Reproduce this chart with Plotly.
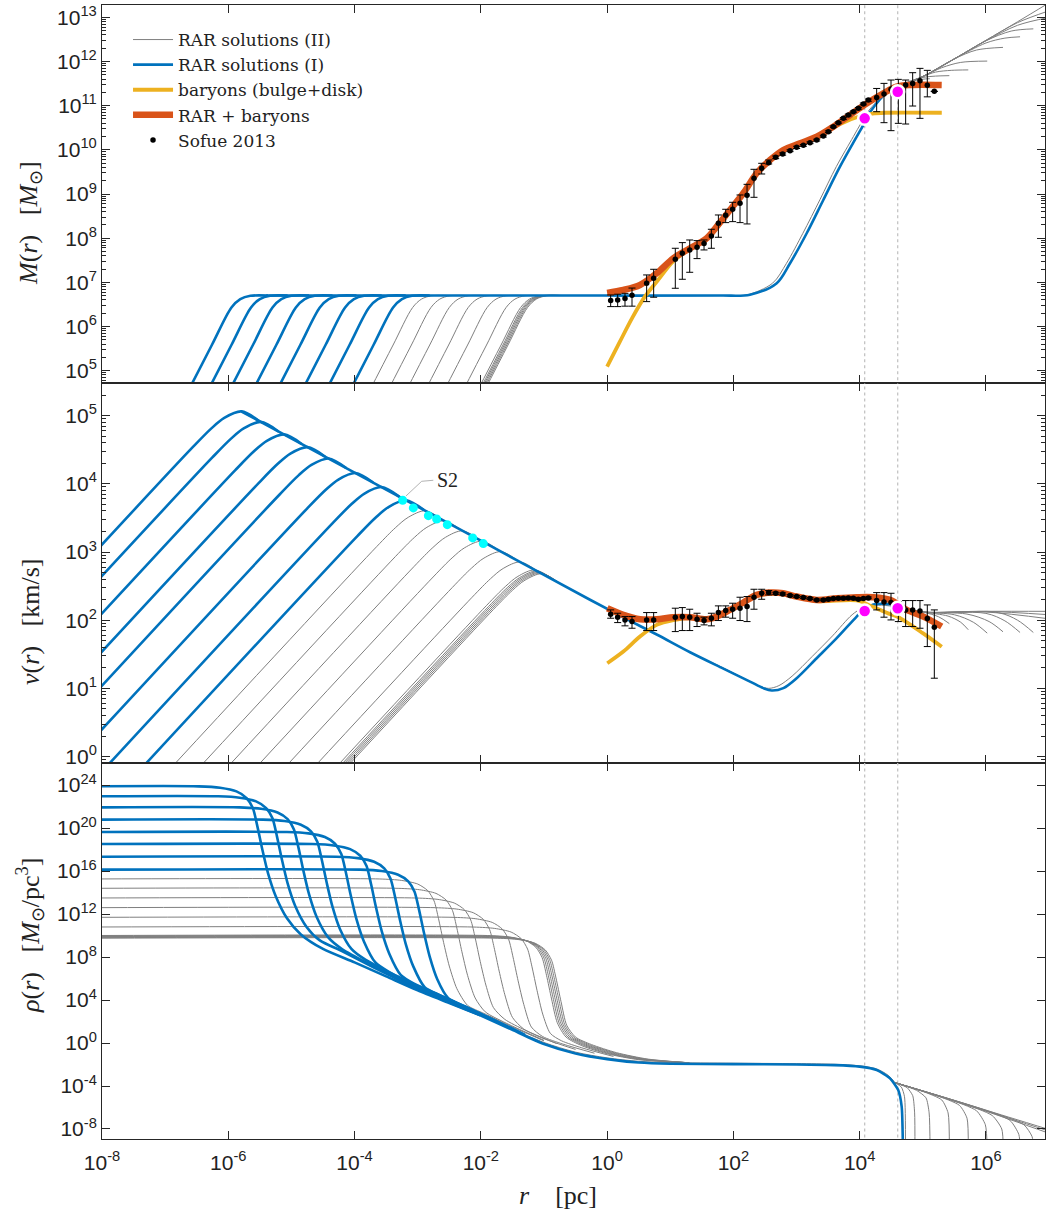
import plotly.graph_objects as go
from plotly.subplots import make_subplots

# ---------------- data (all values are log10 of the quantity) ----------------
BLUE = "#0072BD"; GRAY = "#7F7F7F"; ORANGE = "#D95319"; YELLOW = "#EDB120"

# --- M(r) panel ---
CORE_M_Y = [4.44, 5.58, 6.43, 6.62, 6.695, 6.70]
BM_X = [
    [-6.67, -6.26, -5.95, -5.81, -5.65, -5.37],
    [-6.36, -5.95, -5.64, -5.50, -5.34, -5.06],
    [-6.02, -5.61, -5.30, -5.16, -5.00, -4.72],
    [-5.65, -5.24, -4.93, -4.79, -4.63, -4.35],
    [-5.27, -4.86, -4.55, -4.41, -4.25, -3.97],
    [-4.87, -4.46, -4.15, -4.01, -3.85, -3.57],
    [-4.49, -4.08, -3.77, -3.63, -3.47, -3.19],
    [-4.11, -3.70, -3.39, -3.25, -3.09, -2.81],
]
GM_X = [
    [-3.80, -3.39, -3.08, -2.94, -2.78, -2.50],
    [-3.51, -3.10, -2.79, -2.65, -2.49, -2.21],
    [-3.22, -2.81, -2.50, -2.36, -2.20, -1.92],
    [-2.92, -2.51, -2.20, -2.06, -1.90, -1.62],
    [-2.62, -2.21, -1.90, -1.76, -1.60, -1.32],
    [-2.32, -1.91, -1.60, -1.46, -1.30, -1.02],
    [-2.09, -1.68, -1.37, -1.23, -1.07, -0.79],
    [-2.06, -1.65, -1.34, -1.20, -1.04, -0.76],
    [-2.04, -1.63, -1.32, -1.18, -1.02, -0.74],
    [-2.02, -1.61, -1.30, -1.16, -1.00, -0.72],
    [-2.00, -1.59, -1.28, -1.14, -0.98, -0.70],
    [-1.98, -1.57, -1.26, -1.12, -0.96, -0.68],
]
BM_SH_X = [-5.4, 0.0, 1.8, 2.263, 2.686, 2.897, 3.161, 3.424, 3.688, 3.953, 4.073, 4.163, 4.453, 4.70]
BM_SH_Y = [6.70, 6.70, 6.70, 6.72, 6.98, 7.432, 8.111, 8.865, 9.618, 10.297, 10.601, 10.85, 11.316, 11.43]
GM_SH_X = [-2.6, 0.0, 1.8, 2.2, 2.62, 2.84, 3.10, 3.37, 3.63, 3.90, 4.02, 4.15, 4.35, 4.56]
GM_SH_Y = [6.70, 6.70, 6.70, 6.71, 6.98, 7.43, 8.11, 8.87, 9.62, 10.30, 10.60, 10.90, 11.20, 11.40]
TAIL_M = [
    ([4.56, 4.64, 4.72], [11.40, 11.46, 11.48]),
    ([4.56, 4.70, 4.87], [11.40, 11.49, 11.54]),
    ([4.56, 4.80, 5.00, 5.11], [11.40, 11.54, 11.60, 11.61]),
    ([4.56, 4.80, 5.00, 5.20, 5.42], [11.40, 11.56, 11.64, 11.67, 11.68]),
    ([4.56, 5.00, 5.20, 5.45, 5.72], [11.40, 11.66, 11.76, 11.80, 11.81]),
    ([4.56, 5.00, 5.30, 5.60, 6.02], [11.40, 11.66, 11.86, 11.98, 12.01]),
    ([4.56, 5.00, 5.50, 5.85, 6.27], [11.40, 11.66, 12.06, 12.26, 12.32]),
    ([4.56, 5.00, 5.50, 6.00, 6.30, 6.54], [11.40, 11.66, 12.06, 12.42, 12.53, 12.56]),
    ([4.56, 5.00, 5.50, 6.00, 6.40, 6.75], [11.40, 11.66, 12.06, 12.47, 12.69, 12.74]),
    ([4.56, 5.00, 5.50, 6.00, 6.50, 7.00], [11.40, 11.66, 12.06, 12.47, 12.82, 13.00]),
    ([4.56, 5.00, 5.50, 6.00, 6.50, 7.00], [11.40, 11.66, 12.06, 12.48, 12.88, 13.15]),
    ([4.56, 5.00, 5.50, 6.00, 6.50, 7.00], [11.40, 11.66, 12.06, 12.48, 12.90, 13.33]),
]
OR_M_X = [0.0, 0.256, 0.521, 0.785, 1.048, 1.313, 1.577, 1.735, 1.946, 2.157, 2.368, 2.58, 2.79, 3.055, 3.32, 3.582, 3.847, 4.11, 4.374, 4.585, 4.797, 5.299]
OR_M_Y = [6.76, 6.827, 6.94, 7.205, 7.545, 7.771, 7.998, 8.26, 8.638, 9.016, 9.469, 9.77, 9.997, 10.148, 10.297, 10.524, 10.789, 11.05, 11.28, 11.43, 11.468, 11.468]
YB_M_X = [0.0, 0.2, 0.4, 0.6, 0.8, 1.05, 1.3, 1.58, 1.95, 2.37, 2.79, 3.32, 3.7, 4.0, 4.2, 4.4, 5.3]
YB_M_Y = [5.09, 5.65, 6.2, 6.68, 7.04, 7.48, 7.74, 7.98, 8.63, 9.46, 9.99, 10.29, 10.59, 10.76, 10.82, 10.84, 10.84]

# --- v(r) panel ---
BV = [
    ([-8.2, -6.563, -6.263, -6.063, -5.793, -5.513], [2.91, 4.538, 4.818, 4.968, 5.063, 4.923]),
    ([-8.2, -6.256, -5.956, -5.756, -5.486, -5.206], [2.45, 4.384, 4.664, 4.814, 4.909, 4.769]),
    ([-8.2, -5.889, -5.589, -5.389, -5.119, -4.839], [1.90, 4.201, 4.481, 4.631, 4.726, 4.586]),
    ([-8.2, -5.516, -5.216, -5.016, -4.746, -4.466], [1.34, 4.014, 4.294, 4.444, 4.539, 4.399]),
    ([-8.2, -5.183, -4.883, -4.683, -4.413, -4.133], [0.84, 3.848, 4.128, 4.278, 4.373, 4.233]),
    ([-8.2, -4.756, -4.456, -4.256, -3.986, -3.706], [0.20, 3.634, 3.914, 4.064, 4.159, 4.019]),
    ([-8.2, -4.343, -4.043, -3.843, -3.573, -3.293], [-0.42, 3.428, 3.708, 3.858, 3.953, 3.813]),
    ([-7.7, -3.956, -3.656, -3.456, -3.186, -2.906], [-0.5, 3.234, 3.514, 3.664, 3.759, 3.619]),
]
GV = [
    ([-7.239, -3.649, -3.349, -3.149, -2.879, -2.599], [-0.5, 3.080, 3.360, 3.510, 3.605, 3.465]),
    ([-6.797, -3.354, -3.054, -2.854, -2.584, -2.304], [-0.5, 2.933, 3.213, 3.363, 3.458, 3.318]),
    ([-6.356, -3.060, -2.760, -2.560, -2.290, -2.010], [-0.5, 2.786, 3.066, 3.216, 3.311, 3.171]),
    ([-5.899, -2.755, -2.455, -2.255, -1.985, -1.705], [-0.5, 2.634, 2.914, 3.064, 3.159, 3.019]),
    ([-5.442, -2.451, -2.151, -1.951, -1.681, -1.401], [-0.5, 2.481, 2.761, 2.911, 3.006, 2.866]),
    ([-4.985, -2.146, -1.846, -1.646, -1.376, -1.096], [-0.5, 2.329, 2.609, 2.759, 2.854, 2.714]),
    ([-4.635, -1.913, -1.613, -1.413, -1.143, -0.863], [-0.5, 2.213, 2.493, 2.643, 2.738, 2.598]),
    ([-4.589, -1.882, -1.582, -1.382, -1.112, -0.832], [-0.5, 2.197, 2.477, 2.627, 2.722, 2.582]),
    ([-4.559, -1.862, -1.562, -1.362, -1.092, -0.812], [-0.5, 2.187, 2.467, 2.617, 2.712, 2.572]),
    ([-4.528, -1.841, -1.541, -1.341, -1.071, -0.791], [-0.5, 2.177, 2.457, 2.607, 2.702, 2.562]),
    ([-4.498, -1.821, -1.521, -1.321, -1.051, -0.771], [-0.5, 2.167, 2.447, 2.597, 2.692, 2.552]),
    ([-4.467, -1.801, -1.501, -1.301, -1.031, -0.751], [-0.5, 2.157, 2.437, 2.587, 2.682, 2.542]),
]
BV_SH_X = [-5.79, -4.0, -2.0, -0.271, 0.257, 0.785, 1.313, 1.841, 2.263, 2.474, 2.606, 2.791, 3.002, 3.319, 3.636, 3.952, 4.058, 4.216, 4.428, 4.70]
BV_SH_Y = [5.061, 4.166, 3.166, 2.30, 2.04, 1.79, 1.53, 1.29, 1.10, 1.003, 0.968, 1.003, 1.149, 1.442, 1.736, 2.053, 2.151, 2.23, 2.239, 2.19]
GV_SH_X = [-1.0, -0.271, 0.257, 0.785, 1.313, 1.841, 2.2, 2.42, 2.56, 2.72, 2.93, 3.25, 3.57, 3.88, 4.05, 4.3, 4.56]
GV_SH_Y = [2.666, 2.30, 2.04, 1.79, 1.53, 1.30, 1.13, 1.03, 1.0, 1.04, 1.18, 1.47, 1.77, 2.08, 2.18, 2.22, 2.20]
TAIL_V = [
    ([4.56, 4.65, 4.72], [2.20, 2.19, 2.15]),
    ([4.56, 4.75, 4.87], [2.20, 2.17, 2.12]),
    ([4.56, 4.80, 5.00, 5.11], [2.20, 2.16, 2.10, 2.04]),
    ([4.56, 5.00, 5.25, 5.42], [2.20, 2.12, 2.05, 1.95]),
    ([4.56, 5.00, 5.40, 5.60, 5.72], [2.20, 2.12, 2.06, 1.97, 1.86]),
    ([4.56, 5.00, 5.50, 5.80, 6.02], [2.20, 2.12, 2.08, 1.97, 1.81]),
    ([4.56, 5.00, 5.70, 6.05, 6.27], [2.20, 2.12, 2.09, 1.98, 1.83]),
    ([4.56, 5.00, 6.00, 6.30, 6.54], [2.20, 2.12, 2.10, 1.99, 1.82]),
    ([4.56, 5.00, 6.20, 6.50, 6.75], [2.20, 2.12, 2.11, 2.00, 1.82]),
    ([4.56, 5.00, 6.00, 7.00], [2.20, 2.12, 2.12, 2.02]),
    ([4.56, 5.00, 6.00, 7.00], [2.20, 2.12, 2.13, 2.08]),
    ([4.56, 5.00, 6.00, 7.00], [2.20, 2.12, 2.13, 2.13]),
]
OR_V_X = [0.003, 0.257, 0.521, 0.785, 1.049, 1.313, 1.577, 1.735, 1.946, 2.157, 2.369, 2.58, 2.79, 3.002, 3.319, 3.636, 3.952, 4.216, 4.48, 4.744, 5.008, 5.299]
OR_V_Y = [2.175, 2.078, 2.014, 2.014, 2.043, 2.043, 2.014, 2.053, 2.151, 2.259, 2.371, 2.405, 2.395, 2.347, 2.298, 2.322, 2.337, 2.337, 2.298, 2.151, 2.053, 1.907]
YB_V_X = [0.003, 0.257, 0.521, 0.785, 1.049, 1.313, 1.577, 1.946, 2.369, 2.79, 3.319, 3.952, 4.2, 4.45, 4.6, 5.0, 5.3]
YB_V_Y = [1.369, 1.54, 1.76, 1.931, 2.0, 2.03, 2.0, 2.14, 2.36, 2.385, 2.28, 2.29, 2.2, 2.1, 2.05, 1.81, 1.61]
S2_R = [-3.238, -3.069, -2.831, -2.700, -2.531, -2.129, -1.961]
S2_V = [3.759, 3.647, 3.534, 3.485, 3.402, 3.207, 3.124]

# --- rho(r) panel ---
BR = [
    ([-8.2, -6.47, -6.13, -5.87, -5.71, -5.61, -5.54, -5.46, -5.37, -5.25, -5.07, -4.85, -4.5, -4.0, -3.5, -3.0, -2.5, -2.0],
     [23.88, 23.88, 23.75, 23.41, 22.79, 21.83, 20.18, 17.98, 15.78, 13.68, 11.6, 10.1, 8.75, 7.5, 6.2, 4.9, 3.72, 2.55]),
    ([-8.2, -6.16, -5.82, -5.56, -5.40, -5.30, -5.23, -5.15, -5.06, -4.94, -4.76, -4.55, -4.2, -3.7, -3.0, -2.0],
     [22.95, 22.95, 22.82, 22.48, 21.86, 20.90, 19.25, 17.05, 14.85, 12.75, 10.8, 9.55, 8.55, 7.05, 5.05, 2.57]),
    ([-8.2, -5.82, -5.48, -5.22, -5.06, -4.96, -4.89, -4.81, -4.72, -4.60, -4.42, -4.2, -3.8, -3.2, -2.5, -2.0],
     [21.92, 21.92, 21.79, 21.45, 20.83, 19.87, 18.22, 16.02, 13.82, 11.72, 9.85, 8.75, 7.45, 5.75, 3.85, 2.58]),
    ([-8.2, -5.45, -5.11, -4.85, -4.69, -4.59, -4.52, -4.44, -4.35, -4.23, -4.05, -3.83, -3.4, -2.8, -2.0],
     [20.78, 20.78, 20.65, 20.31, 19.69, 18.73, 17.08, 14.88, 12.68, 10.58, 8.75, 7.75, 6.4, 4.65, 2.6]),
    ([-8.2, -5.07, -4.73, -4.47, -4.31, -4.21, -4.14, -4.06, -3.97, -3.85, -3.67, -3.45, -3.0, -2.5, -2.0],
     [19.63, 19.63, 19.50, 19.16, 18.54, 17.58, 15.93, 13.73, 11.53, 9.43, 7.5, 6.6, 5.3, 3.95, 2.62]),
    ([-8.2, -4.67, -4.33, -4.07, -3.91, -3.81, -3.74, -3.66, -3.57, -3.45, -3.27, -3.05, -2.6, -2.0, -1.6],
     [18.51, 18.51, 18.38, 18.04, 17.42, 16.46, 14.81, 12.61, 10.41, 8.31, 6.35, 5.5, 4.3, 2.65, 1.55]),
    ([-8.2, -4.29, -3.95, -3.69, -3.53, -3.43, -3.36, -3.28, -3.19, -3.07, -2.89, -2.65, -2.2, -1.6],
     [17.33, 17.33, 17.20, 16.86, 16.24, 15.28, 13.63, 11.43, 9.23, 7.13, 5.2, 4.45, 3.25, 1.6]),
    ([-8.2, -3.91, -3.57, -3.31, -3.15, -3.05, -2.98, -2.90, -2.81, -2.69, -2.52, -2.25, -1.8, -1.3],
     [16.13, 16.13, 16.0, 15.66, 15.04, 14.08, 12.43, 10.23, 8.03, 5.93, 4.2, 3.4, 2.18, 0.76]),
]
GR = [
    ([-8.2, -3.60, -3.26, -3.00, -2.84, -2.74, -2.67, -2.59, -2.50, -2.38, -2.21, -1.95, -1.5, -1.0],
     [15.26, 15.26, 15.13, 14.79, 14.17, 13.21, 11.56, 9.36, 7.16, 5.06, 3.5, 2.75, 1.5, 0.2]),
    ([-8.2, -3.31, -2.97, -2.71, -2.55, -2.45, -2.38, -2.30, -2.21, -2.09, -1.93, -1.6, -1.0],
     [14.39, 14.39, 14.26, 13.92, 13.30, 12.34, 10.69, 8.49, 6.29, 4.19, 2.9, 1.85, 0.25]),
    ([-8.2, -3.02, -2.68, -2.42, -2.26, -2.16, -2.09, -2.01, -1.92, -1.80, -1.62, -1.3, -0.8],
     [13.49, 13.49, 13.36, 13.02, 12.40, 11.44, 9.79, 7.59, 5.39, 3.29, 2.2, 1.2, -0.05]),
    ([-8.2, -2.72, -2.38, -2.12, -1.96, -1.86, -1.79, -1.71, -1.62, -1.50, -1.32, -1.0, -0.5],
     [12.59, 12.59, 12.46, 12.12, 11.50, 10.54, 8.89, 6.69, 4.49, 2.39, 1.3, 0.4, -0.6]),
    ([-8.2, -2.42, -2.08, -1.82, -1.66, -1.56, -1.49, -1.41, -1.32, -1.20, -1.02, -0.7, -0.2],
     [11.69, 11.69, 11.56, 11.22, 10.60, 9.64, 7.99, 5.79, 3.59, 1.49, 0.6, -0.1, -0.95]),
    ([-8.2, -2.12, -1.78, -1.52, -1.36, -1.26, -1.19, -1.11, -1.02, -0.90, -0.72, -0.4, 0.1],
     [10.79, 10.79, 10.66, 10.32, 9.70, 8.74, 7.09, 4.89, 2.69, 0.9, 0.2, -0.45, -1.25]),
    ([-8.2, -1.89, -1.55, -1.29, -1.13, -1.03, -0.96, -0.88, -0.79, -0.65, -0.40, 0.0, 0.5, 1.3],
     [10.0, 10.0, 9.87, 9.53, 8.91, 7.95, 6.30, 4.10, 1.90, 0.55, -0.25, -1.0, -1.55, -1.84]),
    ([-8.2, -1.86, -1.52, -1.26, -1.10, -1.00, -0.93, -0.85, -0.76, -0.62, -0.37, 0.03, 0.53, 1.3],
     [9.95, 9.95, 9.82, 9.48, 8.86, 7.90, 6.25, 4.05, 1.85, 0.55, -0.22, -0.98, -1.54, -1.84]),
    ([-8.2, -1.83, -1.49, -1.23, -1.07, -0.97, -0.90, -0.82, -0.73, -0.59, -0.34, 0.06, 0.56, 1.3],
     [9.9, 9.9, 9.77, 9.43, 8.81, 7.85, 6.20, 4.00, 1.80, 0.55, -0.2, -0.96, -1.53, -1.84]),
    ([-8.2, -1.80, -1.46, -1.20, -1.04, -0.94, -0.87, -0.79, -0.70, -0.56, -0.31, 0.09, 0.59, 1.3],
     [9.85, 9.85, 9.72, 9.38, 8.76, 7.80, 6.15, 3.95, 1.75, 0.55, -0.18, -0.94, -1.52, -1.84]),
    ([-8.2, -1.77, -1.43, -1.17, -1.01, -0.91, -0.84, -0.76, -0.67, -0.53, -0.28, 0.12, 0.62, 1.3],
     [9.8, 9.8, 9.67, 9.33, 8.71, 7.75, 6.10, 3.90, 1.70, 0.55, -0.16, -0.92, -1.51, -1.84]),
    ([-8.2, -1.74, -1.40, -1.14, -0.98, -0.88, -0.81, -0.73, -0.64, -0.50, -0.25, 0.15, 0.65, 1.3],
     [9.75, 9.75, 9.62, 9.28, 8.66, 7.70, 6.05, 3.85, 1.65, 0.55, -0.14, -0.90, -1.50, -1.84]),
]
BR_SH_X = [-2.0, -1.5, -1.0, -0.5, 0.0, 0.5, 1.0, 2.0, 3.0, 3.6, 4.0, 4.27, 4.48, 4.61, 4.665, 4.685]
BR_SH_Y = [2.55, 1.22, -0.09, -0.97, -1.5, -1.82, -1.93, -1.96, -2.0, -2.06, -2.2, -2.51, -3.29, -4.37, -5.92, -10.0]
GR_SH_X = [-1.5, -1.0, -0.5, 0.0, 0.5, 1.0, 2.0, 3.0, 3.6, 4.0, 4.27, 4.45, 4.56]
GR_SH_Y = [1.3, 0.05, -0.85, -1.38, -1.70, -1.82, -1.88, -1.92, -1.98, -2.12, -2.42, -3.0, -3.69]
TAIL_R = [
    ([4.56, 4.66, 4.71, 4.725], [-3.69, -4.1, -5.0, -10.0]),
    ([4.56, 4.75, 4.84, 4.87, 4.875], [-3.69, -4.15, -4.9, -6.5, -10.0]),
    ([4.56, 4.90, 5.05, 5.10, 5.115], [-3.69, -4.4, -5.1, -6.5, -10.0]),
    ([4.56, 5.00, 5.30, 5.40, 5.42], [-3.69, -4.5, -5.3, -6.5, -10.0]),
    ([4.56, 5.20, 5.58, 5.70, 5.72], [-3.69, -4.85, -5.8, -7.0, -10.0]),
    ([4.56, 5.40, 5.85, 5.99, 6.02], [-3.69, -5.2, -6.3, -7.6, -10.0]),
    ([4.56, 5.60, 6.10, 6.25, 6.275], [-3.69, -5.55, -6.75, -8.0, -10.0]),
    ([4.56, 5.80, 6.38, 6.52, 6.545], [-3.69, -5.9, -7.2, -8.5, -10.0]),
    ([4.56, 6.00, 6.60, 6.73, 6.755], [-3.69, -6.25, -7.6, -8.7, -10.0]),
    ([4.56, 6.00, 7.00], [-3.69, -6.35, -8.4]),
    ([4.56, 6.00, 7.00], [-3.69, -6.3, -8.2]),
    ([4.56, 6.00, 7.00], [-3.69, -6.25, -8.05]),
]

# --- Sofue 2013 data ---
R_OBS = [0.056, 0.167, 0.283, 0.394, 0.626, 0.737, 1.080, 1.191, 1.308, 1.424, 1.535, 1.651, 1.762, 1.878, 1.988, 2.105,
         2.216, 2.326, 2.448, 2.559, 2.670, 2.780, 2.897, 3.002, 3.108, 3.213, 3.319, 3.424, 3.504, 3.583, 3.662, 3.741,
         3.820, 3.900, 3.979, 4.058, 4.137, 4.269, 4.385, 4.496, 4.612, 4.728, 4.839, 4.955, 5.071, 5.182]
M_OBS = [6.586, 6.601, 6.631, 6.707, 6.978, 7.091, 7.522, 7.657, 7.733, 7.793, 7.877, 8.050, 8.337, 8.518, 8.653, 8.789,
         8.970, 9.355, 9.581, 9.710, 9.830, 9.906, 9.981, 10.057, 10.102, 10.162, 10.223, 10.313, 10.411, 10.525, 10.615,
         10.713, 10.789, 10.864, 10.940, 11.038, 11.128, 11.188, 11.264, 11.370, 11.430, 11.468, 11.505, 11.566, 11.460, 11.324]
M_HI = [6.714, 6.73, 6.75, 6.87, 7.167, 7.295, 7.771, 7.899, 7.959, 7.944, 7.959, 8.201, 8.525, 8.654, 8.812, 8.978,
        9.219, 9.559, 9.695, 9.77, 9.86, 9.93, 10.0, 10.08, 10.12, 10.18, 10.24, 10.33, 10.43, 10.54, 10.63, 10.73,
        10.81, 10.88, 10.96, 11.06, 11.15, 11.39, 11.505, 11.581, 11.596, 11.581, 11.747, 11.845, 11.80, 11.324]
M_LO = [6.45, 6.45, 6.46, 6.46, 6.563, 6.662, 6.865, 7.069, 7.227, 7.537, 7.733, 7.771, 8.020, 8.352, 8.374, 8.352,
        8.322, 8.925, 9.453, 9.68, 9.80, 9.88, 9.96, 10.03, 10.08, 10.14, 10.20, 10.29, 10.39, 10.51, 10.60, 10.69,
        10.77, 10.85, 10.92, 11.02, 11.10, 10.864, 10.615, 10.434, 10.60, 10.585, 10.992, 10.713, 11.2, 11.324]
V_OBS = [2.087, 2.044, 2.004, 1.980, 2.004, 2.004, 2.044, 2.053, 2.044, 2.014, 1.995, 2.029, 2.112, 2.141, 2.161, 2.176,
         2.200, 2.337, 2.395, 2.405, 2.395, 2.386, 2.361, 2.347, 2.332, 2.317, 2.298, 2.298, 2.307, 2.317, 2.322, 2.322,
         2.327, 2.322, 2.307, 2.317, 2.327, 2.288, 2.268, 2.259, 2.18, 2.151, 2.151, 2.136, 2.024, 1.897]
V_HI = [2.151, 2.102, 2.053, 2.053, 2.112, 2.112, 2.176, 2.185, 2.161, 2.102, 2.044, 2.102, 2.210, 2.210, 2.249, 2.337,
        2.347, 2.454, 2.454, 2.435, 2.41, 2.40, 2.375, 2.36, 2.345, 2.33, 2.31, 2.31, 2.32, 2.33, 2.335, 2.335,
        2.34, 2.335, 2.32, 2.33, 2.34, 2.405, 2.405, 2.395, 2.27, 2.288, 2.288, 2.288, 2.224, 2.151]
V_LO = [2.029, 1.965, 1.917, 1.882, 1.848, 1.848, 1.833, 1.848, 1.848, 1.907, 1.931, 1.917, 1.995, 2.044, 2.029, 1.995,
        1.980, 2.161, 2.307, 2.371, 2.38, 2.37, 2.345, 2.335, 2.32, 2.305, 2.285, 2.285, 2.295, 2.305, 2.31, 2.31,
        2.315, 2.31, 2.295, 2.305, 2.315, 2.151, 2.044, 2.004, 1.98, 1.907, 1.907, 1.882, 1.613, 1.149]

MAG_R = [4.079, 4.602]
MAG_M = [10.713, 11.317]
MAG_V = [2.136, 2.176]
VLINES = [4.079, 4.602]

X_TICKS = [-8, -6, -4, -2, 0, 2, 4, 6]
M_TICKS = [5, 6, 7, 8, 9, 10, 11, 12, 13]
V_TICKS = [0, 1, 2, 3, 4, 5]
R_TICKS = [-8, -4, 0, 4, 8, 12, 16, 20, 24]


# ---------------- figure ----------------
def p10(v):
    return [10.0 ** t for t in v]


fig = make_subplots(rows=3, cols=1, vertical_spacing=0)


def add_line(row, xs, ys, color, width, name=None, show=False, rank=1000, smooth=0.9, dash=None, shape="spline"):
    ln = dict(color=color, width=width, shape=shape)
    if shape == "spline":
        ln["smoothing"] = smooth
    if dash:
        ln["dash"] = dash
    fig.add_trace(go.Scatter(x=p10(xs), y=p10(ys), mode="lines", line=ln, name=name,
                             showlegend=show, legendrank=rank, hoverinfo="skip"), row=row, col=1)


# dotted vertical lines
for row in (1, 2, 3):
    for v in VLINES:
        add_line(row, [v, v], [-30, 40], "#C4C4C4", 1.3, dash="dot", shape="linear")

# gray solutions (II)
for i, xs in enumerate(GM_X):
    add_line(1, xs, CORE_M_Y, GRAY, 1.0, name="RAR solutions (II)", show=(i == 0), rank=1)
add_line(1, GM_SH_X, GM_SH_Y, GRAY, 1.0)
for xs, ys in TAIL_M:
    add_line(1, xs, ys, GRAY, 1.0)
for xs, ys in GV:
    add_line(2, xs, ys, GRAY, 1.0)
add_line(2, GV_SH_X, GV_SH_Y, GRAY, 1.0)
for xs, ys in TAIL_V:
    add_line(2, xs, ys, GRAY, 1.0)
for xs, ys in GR:
    add_line(3, xs, ys, GRAY, 1.0, smooth=0.7)
add_line(3, GR_SH_X, GR_SH_Y, GRAY, 1.0)
for xs, ys in TAIL_R:
    add_line(3, xs, ys, GRAY, 1.0, smooth=0.6)

# blue solutions (I)
for i, xs in enumerate(BM_X):
    add_line(1, xs, CORE_M_Y, BLUE, 2.6, name="RAR solutions (I)", show=(i == 0), rank=2)
add_line(1, BM_SH_X, BM_SH_Y, BLUE, 2.6)
for xs, ys in BV:
    add_line(2, xs, ys, BLUE, 2.6)
add_line(2, BV_SH_X, BV_SH_Y, BLUE, 2.6)
for xs, ys in BR:
    add_line(3, xs, ys, BLUE, 2.6, smooth=0.7)
add_line(3, BR_SH_X, BR_SH_Y, BLUE, 2.6, smooth=0.6)

# baryons and total
add_line(1, YB_M_X, YB_M_Y, YELLOW, 3.8, name="baryons (bulge+disk)", show=True, rank=3)
add_line(2, YB_V_X, YB_V_Y, YELLOW, 3.8)
add_line(1, OR_M_X, OR_M_Y, ORANGE, 6.5, name="RAR + baryons", show=True, rank=4)
add_line(2, OR_V_X, OR_V_Y, ORANGE, 6.5)


def err(vals, hi, lo):
    up = [10 ** h - 10 ** v for v, h in zip(vals, hi)]
    dn = [10 ** v - 10 ** l for v, l in zip(vals, lo)]
    return up, dn


up, dn = err(M_OBS, M_HI, M_LO)
fig.add_trace(go.Scatter(x=p10(R_OBS), y=p10(M_OBS), mode="markers", name="Sofue 2013", showlegend=True,
                         legendrank=5, marker=dict(color="black", size=5.5),
                         error_y=dict(type="data", symmetric=False, array=up, arrayminus=dn,
                                      color="black", thickness=1, width=3.5), hoverinfo="skip"), row=1, col=1)
up, dn = err(V_OBS, V_HI, V_LO)
fig.add_trace(go.Scatter(x=p10(R_OBS), y=p10(V_OBS), mode="markers", showlegend=False,
                         marker=dict(color="black", size=5.5),
                         error_y=dict(type="data", symmetric=False, array=up, arrayminus=dn,
                                      color="black", thickness=1, width=3.5), hoverinfo="skip"), row=2, col=1)

# magenta points
for row, ys in ((1, MAG_M), (2, MAG_V)):
    fig.add_trace(go.Scatter(x=p10(MAG_R), y=p10(ys), mode="markers", showlegend=False,
                             marker=dict(color="#FF00FF", size=13, line=dict(color="white", width=2.5)),
                             hoverinfo="skip"), row=row, col=1)

# S2 points
fig.add_trace(go.Scatter(x=p10(S2_R), y=p10(S2_V), mode="markers", showlegend=False,
                         marker=dict(color="#00FFFF", size=9), hoverinfo="skip"), row=2, col=1)
add_line(2, [-3.185, -2.937, -2.753], [3.823, 4.038, 4.053], "#A0A0A0", 0.8, shape="linear")
fig.add_annotation(x=-2.73, y=4.06, xref="x2", yref="y2", text="S2", showarrow=False, xanchor="left",
                   yanchor="middle", font=dict(family="Liberation Serif", size=20, color="#222"))

# ---------------- axes ----------------
AX = "#262626"
TICKFONT = dict(family="Liberation Sans", size=21, color="#222")
TITLEFONT = dict(family="Liberation Serif", size=26, color="#222")


def sup(e):
    return "10<sup>%d</sup>" % e


for i in (1, 2, 3):
    fig.update_xaxes(type="log", range=[-8, 6.935], tickmode="array", tickvals=p10(X_TICKS),
                     ticktext=[sup(e) for e in X_TICKS], showticklabels=(i == 3), ticks="inside", ticklen=8,
                     tickcolor=AX, showline=True, linecolor=AX, linewidth=1, mirror="ticks", showgrid=False,
                     zeroline=False, tickfont=TICKFONT, row=i, col=1)
fig.update_xaxes(ticklabelstandoff=5, row=3, col=1)

minor_m = [m * 10.0 ** e for e in range(4, 14) for m in range(2, 10)]
minor_v = [m * 10.0 ** e for e in range(-1, 6) for m in range(2, 10)]
fig.update_yaxes(type="log", range=[4.72, 13.28], tickmode="array", tickvals=p10(M_TICKS),
                 ticktext=[sup(e) for e in M_TICKS], domain=[0.66667, 1.0],
                 minor=dict(tickmode="array", tickvals=minor_m, ticks="inside", ticklen=4, tickcolor=AX),
                 row=1, col=1)
fig.update_yaxes(type="log", range=[-0.095, 5.48], tickmode="array", tickvals=p10(V_TICKS),
                 ticktext=[sup(e) for e in V_TICKS], domain=[0.33157, 0.66667],
                 minor=dict(tickmode="array", tickvals=minor_v, ticks="inside", ticklen=4, tickcolor=AX),
                 row=2, col=1)
fig.update_yaxes(type="log", range=[-8.93, 26.05], tickmode="array", tickvals=p10(R_TICKS),
                 ticktext=[sup(e) for e in R_TICKS], domain=[0.0, 0.33157], row=3, col=1)
fig.update_yaxes(ticks="inside", ticklen=8, tickcolor=AX, showline=True, linecolor=AX, linewidth=1, mirror="ticks",
                 showgrid=False, zeroline=False, tickfont=TICKFONT)

# axis titles
NB = "\u00a0"
TITLES = [
    ("<i>M</i>(<i>r</i>)" + NB * 3 + "[<i>M</i><sub>\u2299</sub>]", -0.0764, 0.8078, -90),
    ("<i>v</i>(<i>r</i>)" + NB * 3 + "[km/s]", -0.0764, 0.4559, -90),
    ("<i>\u03c1</i>(<i>r</i>)" + NB * 3 + "[<i>M</i><sub>\u2299</sub>/pc<sup>3</sup>]", -0.0764, 0.1799, -90),
    ("<i>r</i>" + NB * 4 + "[pc]", 0.4836, -0.0494, 0),
]
for txt, xp, yp, ang in TITLES:
    fig.add_annotation(x=xp, y=yp, xref="paper", yref="paper", text=txt, textangle=ang, showarrow=False,
                       xanchor="center", yanchor="middle", font=TITLEFONT)

fig.update_layout(width=1046, height=1217, margin=dict(l=102, r=1, t=5, b=78),
                  paper_bgcolor="white", plot_bgcolor="white",
                  legend=dict(x=0.0276, y=0.985, xanchor="left", yanchor="top", bgcolor="rgba(0,0,0,0)",
                              font=dict(family="DejaVu Serif", size=17, color="#222"), tracegroupgap=0,
                              itemwidth=40))

fig.write_html("out.html")
